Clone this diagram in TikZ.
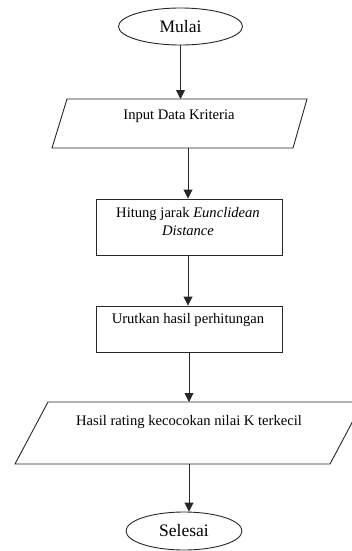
\documentclass[tikz,border=0pt]{standalone}
\usepackage{fontspec}
\setmainfont{Liberation Serif}
\usetikzlibrary{shapes.geometric,arrows.meta}
\begin{document}
\begin{tikzpicture}[x=1pt,y=-1pt,
  line/.style={draw=black!85,line width=0.9pt},
  flow/.style={line,-{Triangle[width=9pt,length=9pt]}},
  term/.style={ellipse,line,inner sep=0pt,font=\fontsize{17.5}{20}\selectfont},
  procbox/.style={rectangle,line,inner sep=0pt},
  txt/.style={inner sep=0pt,align=center,font=\fontsize{14.6}{18}\selectfont}]
\useasboundingbox (0,0) rectangle (352,551);
\clip (0,0) rectangle (352,551);
% Start
\node[term,minimum width=124pt,minimum height=37pt] (mulai) at (180.5,26.5) {Mulai};
% Input parallelogram
\coordinate (p1tl) at (67,99);
\coordinate (p1tr) at (307,99);
\coordinate (p1br) at (293,148);
\coordinate (p1bl) at (52,148);
\draw[line] (p1tl) -- (p1tr) -- (p1br) -- (p1bl) -- cycle;
\coordinate (p1in) at (180.5,99);
\coordinate (p1out) at (188,148);
\node[txt] (t1) at (179,116) {Input Data Kriteria};
% Process 1
\node[procbox,minimum width=186pt,minimum height=56pt] (b2) at (189,227) {};
\node[txt] (t2) at (188,222) {Hitung jarak \textit{Eunclidean}\\\textit{Distance}};
% Process 2
\node[procbox,minimum width=186pt,minimum height=46pt] (b3) at (189,329) {};
\node[txt] (t3) at (188,320) {Urutkan hasil perhitungan};
% Output parallelogram
\coordinate (p2tl) at (48,402);
\coordinate (p2tr) at (363,402);
\coordinate (p2br) at (330,464);
\coordinate (p2bl) at (15,464);
\draw[line] (p2tl) -- (p2tr) -- (p2br) -- (p2bl) -- cycle;
\coordinate (p2in) at (189,402);
\coordinate (p2out) at (189,464);
\node[txt] (t4) at (189,422) {Hasil rating kecocokan nilai K terkecil};
% End
\node[term,minimum width=116pt,minimum height=38pt] (selesai) at (184,531) {Selesai};
% Connectors
\draw[flow] (mulai.south) -- (p1in);
\draw[flow] (p1out) -- (p1out |- b2.north);
\draw[flow] (b2.south -| p1out) -- (b3.north -| p1out);
\draw[flow] (b3.south -| p2in) -- (p2in);
\draw[flow] (p2out) -- (p2out |- selesai.north);
\end{tikzpicture}
\end{document}
